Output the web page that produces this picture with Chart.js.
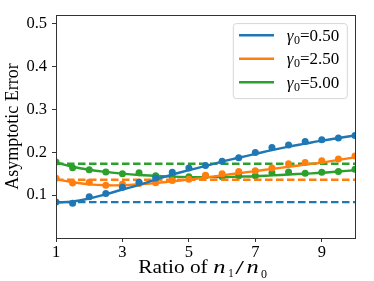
<!DOCTYPE html>
<html>
<head>
<meta charset="utf-8">
<script src="https://cdn.jsdelivr.net/npm/chart.js@4.4.1/dist/chart.umd.min.js"></script>
<style>
  html, body { margin: 0; padding: 0; background: #fff; }
  #wrap { width: 374px; height: 281px; }
</style>
</head>
<body>
<div id="wrap"><canvas id="errChart" width="374" height="281"></canvas></div>
<script>
// ratio n1/n0 sampled every 0.5
const ratios = [1, 1.5, 2, 2.5, 3, 3.5, 4, 4.5, 5, 5.5, 6, 6.5, 7, 7.5, 8, 8.5, 9, 9.5, 10];
const gammaLabels = ['0.50', '2.50', '5.00'];
const colors = ['#1f77b4', '#ff7f0e', '#2ca02c'];

// measured points (dots)
const measuredG050 = [0.084, 0.081, 0.096, 0.104, 0.118, 0.130, 0.140, 0.153, 0.163, 0.169, 0.179, 0.187, 0.199, 0.211, 0.217, 0.225, 0.229, 0.233, 0.239];
const measuredG250 = [0.139, 0.128, 0.130, 0.123, 0.125, 0.127, 0.129, 0.134, 0.137, 0.146, 0.150, 0.155, 0.157, 0.163, 0.173, 0.176, 0.180, 0.184, 0.191];
const measuredG500 = [0.177, 0.164, 0.159, 0.154, 0.150, 0.152, 0.145, 0.143, 0.143, 0.145, 0.143, 0.145, 0.145, 0.152, 0.154, 0.151, 0.153, 0.155, 0.160];

// fitted curves (solid)
const fitG050 = [0.083, 0.085, 0.092, 0.102, 0.113, 0.124, 0.136, 0.148, 0.158, 0.168, 0.178, 0.187, 0.196, 0.205, 0.213, 0.220, 0.227, 0.233, 0.239];
const fitG250 = [0.137, 0.130, 0.125, 0.123, 0.123, 0.125, 0.128, 0.132, 0.136, 0.141, 0.146, 0.151, 0.156, 0.161, 0.166, 0.171, 0.176, 0.182, 0.188];
const fitG500 = [0.176, 0.166, 0.159, 0.154, 0.150, 0.147, 0.145, 0.143, 0.142, 0.142, 0.142, 0.143, 0.144, 0.146, 0.148, 0.150, 0.152, 0.155, 0.158];

// asymptotic levels (dashed)
const asymptotes = [0.0837, 0.1356, 0.173];

const xTicks = [1, 3, 5, 7, 9];
const yTicks = [0.1, 0.2, 0.3, 0.4, 0.5];

const measured = [measuredG050, measuredG250, measuredG500];
const fits = [fitG050, fitG250, fitG500];

const SERIF = '"Liberation Serif", "Times New Roman", serif';
const pair = (xs, ys) => xs.map((x, i) => ({ x, y: ys[i] }));

const datasets = [];
gammaLabels.forEach((g, i) => {
    datasets.push({
        label: 'γ0=' + g,
        data: pair(ratios, fits[i]),
        borderColor: colors[i],
        borderWidth: 2.4,
        pointRadius: 0,
        tension: 0.4,
        clip: 0,
    });
    datasets.push({
        label: 'points ' + g,
        data: pair(ratios, measured[i]),
        showLine: false,
        pointRadius: 3.5,
        pointBorderWidth: 0,
        pointBackgroundColor: colors[i],
        borderColor: colors[i],
        clip: 0,
    });
    datasets.push({
        label: 'asymptote ' + g,
        data: [{ x: ratios[0], y: asymptotes[i] }, { x: ratios[ratios.length - 1], y: asymptotes[i] }],
        borderColor: colors[i],
        borderWidth: 2.4,
        borderDash: [7.5, 3.5],
        pointRadius: 0,
        clip: 0,
    });
});

const frame = {
    id: 'frame',
    afterDatasetsDraw(chart) {
        const { ctx, chartArea: a } = chart;
        ctx.save();
        ctx.strokeStyle = '#333';
        ctx.lineWidth = 1;
        ctx.strokeRect(Math.round(a.left) + 0.5, Math.round(a.top) + 0.5, Math.round(a.right - a.left), Math.round(a.bottom - a.top));
        ctx.restore();
    },
};

const legendBox = {
    id: 'legendBox',
    afterDraw(chart) {
        const { ctx, chartArea: a } = chart;
        const x0 = a.right - 121.7, y0 = a.top + 8.7, w = 114, h = 75;
        ctx.save();
        ctx.beginPath();
        ctx.roundRect(x0, y0, w, h, 3);
        ctx.fillStyle = 'rgba(255,255,255,0.8)';
        ctx.fill();
        ctx.strokeStyle = '#d6d6d6';
        ctx.lineWidth = 1;
        ctx.stroke();
        gammaLabels.forEach((g, i) => {
            const y = y0 + 11.6 + i * 23.5;
            ctx.beginPath();
            ctx.moveTo(x0 + 5.7, y);
            ctx.lineTo(x0 + 40.7, y);
            ctx.strokeStyle = colors[i];
            ctx.lineWidth = 2.4;
            ctx.stroke();
            let tx = x0 + 53.4;
            const base = y + 5.7;
            ctx.fillStyle = '#000';
            ctx.textBaseline = 'alphabetic';
            ctx.textAlign = 'left';
            ctx.font = 'italic 17px ' + SERIF;
            ctx.fillText('γ', tx, base);
            tx += ctx.measureText('γ').width + 0.5;
            ctx.font = '12px ' + SERIF;
            ctx.fillText('0', tx, base + 3);
            tx += ctx.measureText('0').width;
            ctx.font = '17px ' + SERIF;
            ctx.fillText('=' + g, tx, base);
        });
        ctx.restore();
    },
};

// x axis title with math-style pieces, each fitted to a target width
const xTitle = {
    id: 'xTitle',
    afterDraw(chart) {
        const { ctx, chartArea: a } = chart;
        const x0 = a.left + 82.3;
        const base = chart.height - 8.3;
        const parts = [
            { t: 'Ratio of', f: '18px ' + SERIF, dx: 0, w: 69.4, dy: 0 },
            { t: 'n', f: 'italic 19px ' + SERIF, dx: 75, w: 12.2, dy: 0 },
            { t: '1', f: '12.5px ' + SERIF, dx: 90, w: 5.4, dy: 4.3 },
            { t: '/', f: '19px ' + SERIF, dx: 97, w: 8.8, dy: 1.5 },
            { t: 'n', f: 'italic 19px ' + SERIF, dx: 108.2, w: 12.2, dy: 0 },
            { t: '0', f: '12.5px ' + SERIF, dx: 122.8, w: 6, dy: 5.3 },
        ];
        ctx.save();
        ctx.fillStyle = '#000';
        ctx.textBaseline = 'alphabetic';
        ctx.textAlign = 'left';
        parts.forEach(p => {
            ctx.font = p.f;
            const m = ctx.measureText(p.t).width;
            const sx = p.w / m;
            ctx.save();
            ctx.translate(x0 + p.dx, base + p.dy);
            ctx.scale(sx, 1);
            ctx.fillText(p.t, 0, 0);
            ctx.restore();
        });
        ctx.restore();
    },
};

new Chart(document.getElementById('errChart'), {
    type: 'line',
    data: { datasets },
    options: {
        responsive: false,
        animation: false,
        layout: { padding: { left: 0, top: 14, right: 19, bottom: 0 } },
        plugins: { legend: { display: false }, tooltip: { enabled: false } },
        scales: {
            x: {
                type: 'linear',
                min: 1,
                max: 10,
                afterBuildTicks: (s) => { s.ticks = xTicks.map(v => ({ value: v })); },
                afterFit: (s) => { s.height = 43; },
                border: { display: false },
                grid: { drawOnChartArea: false, drawTicks: true, tickLength: 4, color: '#333' },
                ticks: { color: '#000', padding: 1, maxRotation: 0, font: { size: 16.5, family: SERIF }, callback: (v) => String(v) },
            },
            y: {
                min: 0,
                max: 0.52,
                afterBuildTicks: (s) => { s.ticks = yTicks.map(v => ({ value: v })); },
                afterFit: (s) => { s.width = 56; },
                border: { display: false },
                grid: { drawOnChartArea: false, drawTicks: true, tickLength: 4, color: '#333' },
                ticks: { color: '#000', padding: 5, font: { size: 16.5, family: SERIF }, callback: (v) => v.toFixed(1) },
                title: { display: true, text: 'Asymptotic Error', color: '#000', padding: { top: 2, bottom: 0 }, font: { size: 18, family: SERIF } },
            },
        },
    },
    plugins: [frame, legendBox, xTitle],
});
</script>
</body>
</html>
